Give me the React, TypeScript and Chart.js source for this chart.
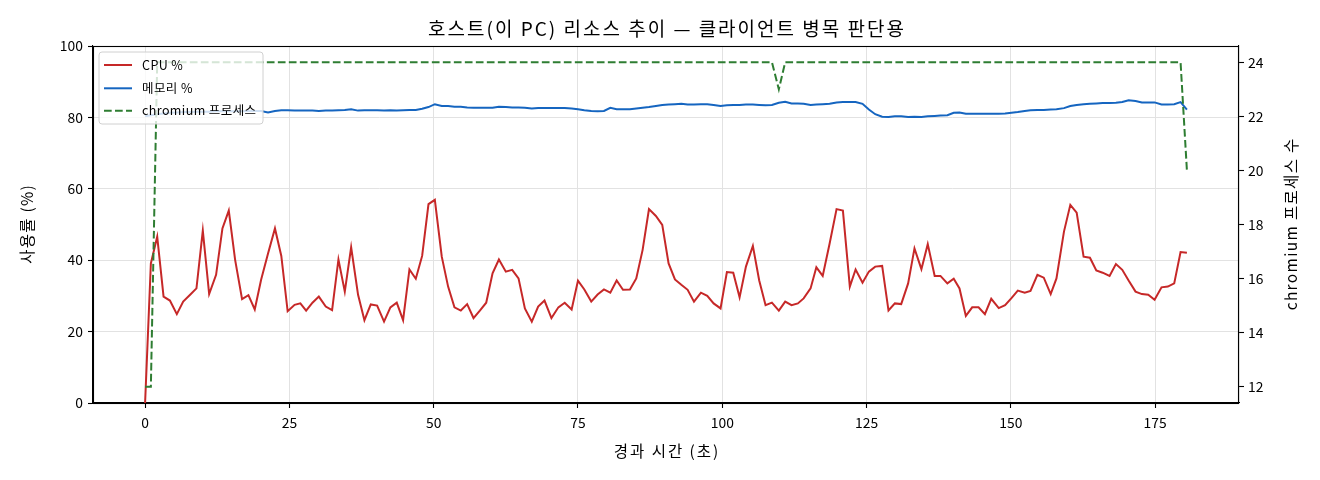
import React, { useEffect, useRef } from "react";
import { Chart, registerables } from "chart.js";

Chart.register(...registerables);

const FONT = '"Noto Sans CJK KR", "Noto Sans", sans-serif';

const chartTitle = "호스트(이 PC) 리소스 추이 — 클라이언트 병목 판단용";
const xAxisTitle = "경과 시간 (초)";
const leftAxisTitle = "사용률 (%)";
const rightAxisTitle = "chromium 프로세스 수";
const seriesLabels = ["CPU %", "메모리 %", "chromium 프로세스"];
const seriesColors = ["#c62828", "#1565c0", "#2e7d32"];

const xTickValues = [0, 25, 50, 75, 100, 125, 150, 175];
const leftTickValues = [0, 20, 40, 60, 80, 100];
const rightTickValues = [12, 14, 16, 18, 20, 22, 24];

const elapsedSeconds = [
  0, 1.0, 2.1, 3.2, 4.3, 5.5, 6.6, 7.8, 8.9, 10.0,
  11.1, 12.3, 13.4, 14.5, 15.6, 16.8, 17.9, 19.0, 20.1, 21.3,
  22.5, 23.6, 24.7, 25.9, 26.9, 27.9, 29.0, 30.1, 31.3, 32.4,
  33.5, 34.6, 35.7, 36.9, 38.0, 39.1, 40.2, 41.4, 42.5, 43.6,
  44.7, 45.8, 46.9, 48.0, 49.1, 50.2, 51.4, 52.5, 53.6, 54.7,
  55.8, 56.9, 58.0, 59.1, 60.2, 61.3, 62.5, 63.6, 64.7, 65.8,
  67.0, 68.1, 69.2, 70.4, 71.6, 72.7, 73.9, 75.0, 76.1, 77.3,
  78.4, 79.5, 80.6, 81.7, 82.8, 84.0, 85.1, 86.2, 87.3, 88.5,
  89.6, 90.7, 91.8, 92.9, 94.0, 95.1, 96.3, 97.4, 98.5, 99.7,
  100.8, 101.9, 103.0, 104.1, 105.3, 106.4, 107.5, 108.6, 109.8, 110.9,
  112.0, 113.1, 114.1, 115.3, 116.3, 117.4, 118.6, 119.8, 120.9, 122.1,
  123.1, 124.3, 125.4, 126.5, 127.7, 128.8, 129.9, 131.0, 132.2, 133.3,
  134.5, 135.6, 136.8, 137.8, 139.0, 140.1, 141.1, 142.2, 143.3, 144.4,
  145.5, 146.6, 147.9, 149.0, 150.1, 151.2, 152.4, 153.4, 154.6, 155.7,
  156.9, 157.9, 159.2, 160.3, 161.4, 162.6, 163.7, 164.8, 165.9, 167.1,
  168.2, 169.3, 170.4, 171.6, 172.7, 173.8, 174.9, 176.1, 177.2, 178.3,
  179.4, 180.5,
];

const cpuPercent = [
  0, 39.1, 46.6, 29.8, 28.7, 24.9, 28.4, 30.3, 32.1, 48.3,
  30.5, 35.9, 48.9, 53.9, 40.1, 29.1, 30.2, 26.2, 34.5, 41.9,
  48.9, 41.2, 25.7, 27.5, 27.9, 25.9, 28.1, 29.8, 27.0, 26.0,
  40.2, 31.2, 43.6, 30.3, 23.2, 27.6, 27.3, 22.8, 26.8, 28.1,
  23.2, 37.4, 34.8, 41.2, 55.7, 56.9, 41.0, 32.6, 26.8, 25.9,
  27.7, 23.8, 25.9, 28.1, 36.3, 40.2, 36.8, 37.3, 34.9, 26.5,
  22.8, 27.0, 28.7, 23.8, 26.8, 28.1, 26.2, 34.3, 31.8, 28.4,
  30.4, 31.8, 30.9, 34.3, 31.7, 31.8, 34.9, 42.9, 54.3, 52.4,
  49.9, 39.1, 34.6, 33.1, 31.7, 28.4, 30.9, 30.0, 27.9, 26.5,
  36.7, 36.5, 29.6, 38.2, 44.0, 34.3, 27.4, 28.1, 25.9, 28.4,
  27.4, 27.9, 29.3, 32.1, 38.0, 35.6, 44.7, 54.3, 53.9, 32.6,
  37.4, 33.7, 36.8, 38.2, 38.4, 25.9, 27.9, 27.7, 33.5, 43.3,
  37.5, 44.5, 35.6, 35.6, 33.5, 34.8, 32.1, 24.4, 26.8, 26.8,
  24.9, 29.2, 26.6, 27.4, 29.4, 31.5, 30.9, 31.4, 35.9, 35.1,
  30.5, 34.9, 48.0, 55.5, 53.3, 41.0, 40.7, 37.1, 36.5, 35.6,
  38.9, 37.3, 34.3, 31.2, 30.5, 30.3, 28.9, 32.4, 32.6, 33.5,
  42.3, 42.1,
];

const memoryPercent = [
  80.3, 80.6, 80.9, 81.1, 81.3, 81.4, 81.5, 81.5, 81.6, 81.6,
  81.6, 81.7, 81.7, 81.7, 81.7, 81.7, 81.8, 81.8, 81.8, 81.4,
  81.8, 82.0, 82.0, 81.9, 81.9, 81.9, 81.9, 81.8, 81.9, 81.9,
  82.0, 82.1, 82.3, 81.9, 82.0, 82.0, 82.0, 81.9, 82.0, 81.9,
  82.0, 82.1, 82.1, 82.4, 82.9, 83.7, 83.2, 83.2, 83.0, 83.0,
  82.8, 82.7, 82.7, 82.7, 82.7, 83.0, 82.9, 82.8, 82.8, 82.7,
  82.5, 82.6, 82.6, 82.6, 82.6, 82.6, 82.5, 82.3, 82.0, 81.8,
  81.7, 81.8, 82.7, 82.3, 82.3, 82.3, 82.5, 82.7, 82.9, 83.2,
  83.5, 83.6, 83.7, 83.8, 83.6, 83.6, 83.7, 83.7, 83.5, 83.2,
  83.4, 83.5, 83.5, 83.6, 83.6, 83.5, 83.4, 83.5, 84.1, 84.4,
  83.9, 83.9, 83.8, 83.5, 83.6, 83.7, 83.8, 84.2, 84.3, 84.3,
  84.3, 83.8, 82.2, 80.9, 80.2, 80.1, 80.3, 80.3, 80.1, 80.2,
  80.1, 80.3, 80.4, 80.5, 80.6, 81.3, 81.4, 81.0, 81.0, 81.0,
  81.0, 81.0, 81.0, 81.1, 81.3, 81.5, 81.8, 82.0, 82.1, 82.1,
  82.2, 82.3, 82.6, 83.2, 83.5, 83.7, 83.8, 83.9, 84.0, 84.0,
  84.1, 84.3, 84.8, 84.6, 84.2, 84.2, 84.2, 83.6, 83.6, 83.7,
  84.3, 82.2,
];

const chromiumProcesses = [
  12, 12, 24, 24, 24, 24, 24, 24, 24, 24,
  24, 24, 24, 24, 24, 24, 24, 24, 24, 24,
  24, 24, 24, 24, 24, 24, 24, 24, 24, 24,
  24, 24, 24, 24, 24, 24, 24, 24, 24, 24,
  24, 24, 24, 24, 24, 24, 24, 24, 24, 24,
  24, 24, 24, 24, 24, 24, 24, 24, 24, 24,
  24, 24, 24, 24, 24, 24, 24, 24, 24, 24,
  24, 24, 24, 24, 24, 24, 24, 24, 24, 24,
  24, 24, 24, 24, 24, 24, 24, 24, 24, 24,
  24, 24, 24, 24, 24, 24, 24, 24, 23, 24,
  24, 24, 24, 24, 24, 24, 24, 24, 24, 24,
  24, 24, 24, 24, 24, 24, 24, 24, 24, 24,
  24, 24, 24, 24, 24, 24, 24, 24, 24, 24,
  24, 24, 24, 24, 24, 24, 24, 24, 24, 24,
  24, 24, 24, 24, 24, 24, 24, 24, 24, 24,
  24, 24, 24, 24, 24, 24, 24, 24, 24, 24,
  24, 20,
];

const toPoints = (values: number[]) =>
  elapsedSeconds.map((t, i) => ({ x: t, y: values[i] }));

const fixedTicks = (values: number[]) => (scale: any) => {
  scale.ticks = values.map((v) => ({ value: v }));
};

// draw text centred on (0,0) of the current transform, fitted to a width by small letter spacing
function drawFittedText(ctx: any, text: string, targetWidth: number) {
  ctx.letterSpacing = "0px";
  const natural = ctx.measureText(text).width;
  const n = Array.from(text).length;
  const ls = Math.max(-0.5, Math.min(2, (targetWidth - natural) / n));
  ctx.letterSpacing = `${ls}px`;
  const w = natural + ls * n;
  ctx.textAlign = "left";
  ctx.textBaseline = "middle";
  ctx.fillText(text, -w / 2 + ls / 2, 0);
  ctx.letterSpacing = "0px";
}

const decorPlugin = {
  id: "decor",
  afterDraw(chart: any) {
    const { ctx, chartArea: a } = chart;
    const midX = (a.left + a.right) / 2;
    const midY = (a.top + a.bottom) / 2;
    ctx.save();
    // full frame (spines)
    ctx.strokeStyle = "#000";
    ctx.lineWidth = 1.1;
    ctx.strokeRect(a.left + 0.5, a.top + 0.5, a.right - a.left - 1, a.bottom - a.top);

    ctx.fillStyle = "#000";

    // chart title
    ctx.save();
    ctx.translate(midX, 29);
    ctx.font = `19px ${FONT}`;
    drawFittedText(ctx, chartTitle, 485);
    ctx.restore();

    // x axis title
    ctx.save();
    ctx.translate(midX, 451);
    ctx.font = `15.5px ${FONT}`;
    drawFittedText(ctx, xAxisTitle, 110);
    ctx.restore();

    // left axis title
    ctx.save();
    ctx.translate(27, midY);
    ctx.rotate(-Math.PI / 2);
    ctx.font = `15.5px ${FONT}`;
    drawFittedText(ctx, leftAxisTitle, 80);
    ctx.restore();

    // right axis title (reads bottom-to-top)
    ctx.save();
    ctx.translate(1291, midY);
    ctx.rotate(-Math.PI / 2);
    ctx.font = `15.5px ${FONT}`;
    drawFittedText(ctx, rightAxisTitle, 173);
    ctx.restore();

    // legend
    const bx = a.left + 6;
    const by = a.top + 6;
    const bw = 164;
    const bh = 72;
    const r = 3;
    ctx.beginPath();
    ctx.moveTo(bx + r, by);
    ctx.lineTo(bx + bw - r, by);
    ctx.arcTo(bx + bw, by, bx + bw, by + r, r);
    ctx.lineTo(bx + bw, by + bh - r);
    ctx.arcTo(bx + bw, by + bh, bx + bw - r, by + bh, r);
    ctx.lineTo(bx + r, by + bh);
    ctx.arcTo(bx, by + bh, bx, by + bh - r, r);
    ctx.lineTo(bx, by + r);
    ctx.arcTo(bx, by, bx + r, by, r);
    ctx.closePath();
    ctx.fillStyle = "rgba(255,255,255,0.8)";
    ctx.fill();
    ctx.strokeStyle = "#d0d0d0";
    ctx.lineWidth = 1;
    ctx.stroke();

    const rows = [13, 36.3, 58.7];
    seriesLabels.forEach((label, i) => {
      const y = by + rows[i];
      ctx.beginPath();
      ctx.strokeStyle = seriesColors[i];
      ctx.lineWidth = 2;
      ctx.setLineDash(i === 2 ? [7.7, 3.3] : []);
      ctx.moveTo(bx + 5, y);
      ctx.lineTo(bx + 33, y);
      ctx.stroke();
      ctx.setLineDash([]);
      ctx.fillStyle = "#000";
      ctx.font = `12.5px ${FONT}`;
      ctx.textAlign = "left";
      ctx.textBaseline = "middle";
      ctx.letterSpacing = "0.4px";
      ctx.fillText(label, bx + 43, y);
      ctx.letterSpacing = "0px";
    });
    ctx.restore();
  },
};

export default function App() {
  const canvasRef = useRef<HTMLCanvasElement | null>(null);

  useEffect(() => {
    if (!canvasRef.current) return;
    const tickFont = { family: FONT, size: 13.9 };
    const gridColor = "#e2e2e2";
    const chart = new Chart(canvasRef.current, {
      type: "line",
      data: {
        datasets: [
          {
            label: seriesLabels[0],
            data: toPoints(cpuPercent),
            borderColor: seriesColors[0],
            borderWidth: 2,
            pointRadius: 0,
            tension: 0,
            yAxisID: "y",
            order: 2,
          },
          {
            label: seriesLabels[1],
            data: toPoints(memoryPercent),
            borderColor: seriesColors[1],
            borderWidth: 2,
            pointRadius: 0,
            tension: 0,
            yAxisID: "y",
            order: 1,
          },
          {
            label: seriesLabels[2],
            data: toPoints(chromiumProcesses),
            borderColor: seriesColors[2],
            borderWidth: 2,
            borderDash: [7.7, 3.3],
            pointRadius: 0,
            tension: 0,
            yAxisID: "y1",
            order: 0,
          },
        ],
      },
      options: {
        animation: false,
        responsive: false,
        maintainAspectRatio: false,
        layout: { padding: { top: 46, left: 0, right: 0, bottom: 0 } },
        plugins: {
          legend: { display: false },
          title: { display: false },
          tooltip: { enabled: false },
        },
        scales: {
          x: {
            type: "linear",
            min: -9.025,
            max: 189.525,
            afterBuildTicks: fixedTicks(xTickValues),
            afterFit: (s: any) => {
              s.height = 77;
            },
            grid: {
              color: gridColor,
              lineWidth: 1,
              tickColor: "#000",
              tickLength: 5,
              tickWidth: 1.1,
            },
            border: { display: true, color: "#000", width: 1.1 },
            ticks: {
              font: tickFont,
              color: "#000",
              padding: 6,
              autoSkip: false,
              maxRotation: 0,
            },
          },
          y: {
            type: "linear",
            position: "left",
            min: 0,
            max: 100,
            afterBuildTicks: fixedTicks(leftTickValues),
            afterFit: (s: any) => {
              s.width = 93;
            },
            grid: {
              color: gridColor,
              lineWidth: 1,
              tickColor: "#000",
              tickLength: 5,
              tickWidth: 1.1,
            },
            border: { display: true, color: "#000", width: 1.1 },
            ticks: { font: tickFont, color: "#000", padding: 5, autoSkip: false },
          },
          y1: {
            type: "linear",
            position: "right",
            min: 11.4,
            max: 24.6,
            afterBuildTicks: fixedTicks(rightTickValues),
            afterFit: (s: any) => {
              s.width = 81;
            },
            grid: {
              drawOnChartArea: false,
              color: "#000",
              tickColor: "#000",
              tickLength: 5,
              tickWidth: 1.1,
            },
            border: { display: true, color: "#000", width: 1.1 },
            ticks: { font: tickFont, color: "#000", padding: 4, autoSkip: false },
          },
        },
      },
      plugins: [decorPlugin],
    });
    return () => chart.destroy();
  }, []);

  return (
    <div
      style={{
        position: "fixed",
        left: 0,
        top: 0,
        width: 1320,
        height: 480,
        background: "#fff",
      }}
    >
      <canvas
        ref={canvasRef}
        width={1320}
        height={480}
        style={{ display: "block", width: 1320, height: 480 }}
      />
    </div>
  );
}
